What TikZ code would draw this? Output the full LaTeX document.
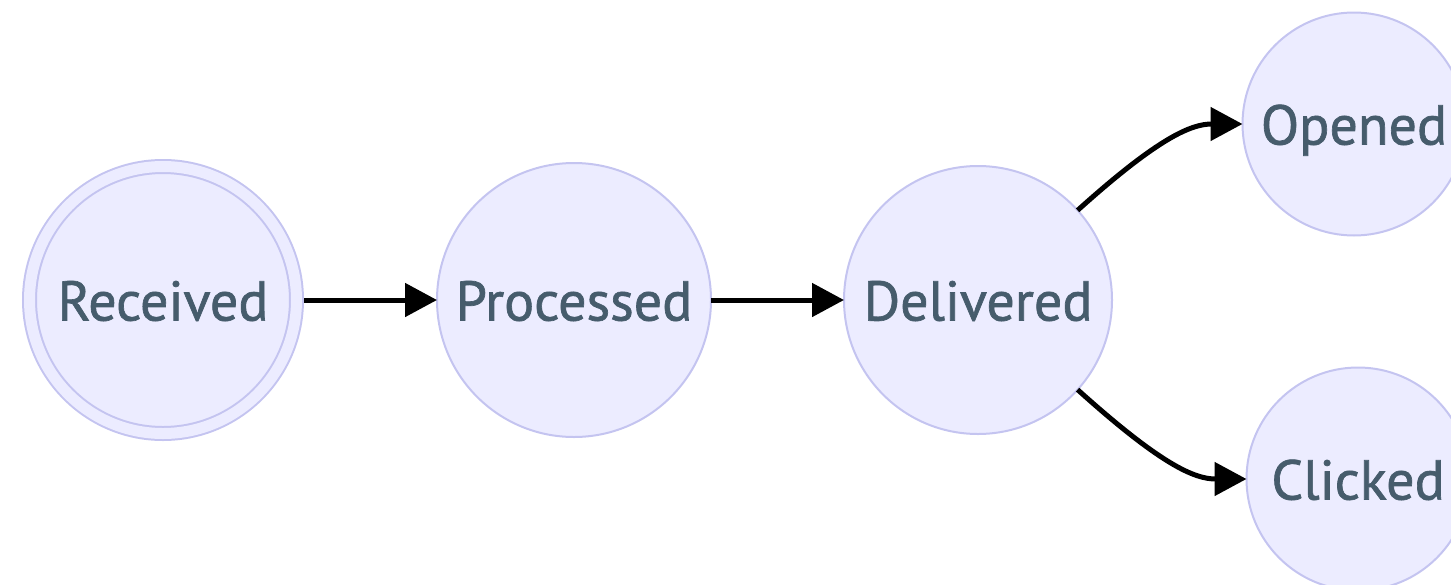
\documentclass[tikz,border=0pt]{standalone}
\usepackage{fontspec}
\setmainfont{PT Sans}[FakeBold=1.2]
\usetikzlibrary{arrows.meta, positioning}

\definecolor{statefill}{RGB}{236,236,255}
\definecolor{stateline}{RGB}{196,196,240}
\definecolor{statetext}{RGB}{70,92,108}

\begin{document}
\begin{tikzpicture}[
    x=1pt, y=1pt,
    font=\fontsize{56}{62}\selectfont,
    >={Triangle[length=32pt, width=33pt]},
    state/.style={
        circle,
        draw=stateline,
        fill=statefill,
        line width=2pt,
        text=statetext,
        text height=41pt,
        text depth=0pt,
        inner sep=0pt,
        outer sep=0pt
    },
    firststate/.style={
        state,
        double=statefill,
        double distance=11pt,
        outer sep=7.5pt,
        minimum size=267pt
    },
    flow/.style={
        ->,
        line width=5pt,
        black
    }
]

\clip (0,0) rectangle (1451,-584);

% Main row
\node[firststate] (received) at (163,-300) {Received};
\node[state, minimum size=274pt, right=133pt of received] (processed) {Processed};
\node[state, minimum size=268pt, right=133pt of processed] (delivered) {Delivered};

% Branches
\node[state, minimum size=223pt] (opened) at (1354,-124) {Opened};
\node[state, minimum size=223pt] (clicked) at (1358,-479) {Clicked};

\draw[flow] (received) -- (processed);
\draw[flow] (processed) -- (delivered);
\draw[flow] (delivered.42) to[out=42, in=180, out looseness=1.5, in looseness=0.7] (opened);
\draw[flow] (delivered.-42) to[out=-42, in=180, out looseness=1.5, in looseness=0.7] (clicked);

\end{tikzpicture}
\end{document}
